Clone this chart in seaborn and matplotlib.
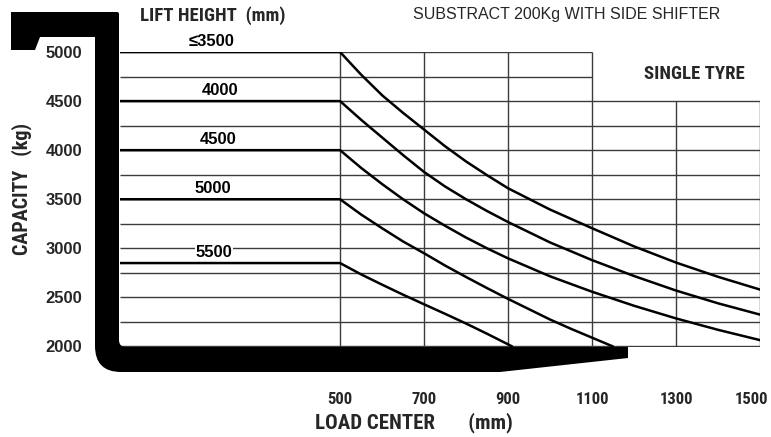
import numpy as np
import pandas as pd
import matplotlib
matplotlib.use("Agg")
import matplotlib.pyplot as plt
import seaborn as sns
from matplotlib.path import Path
from matplotlib.patches import PathPatch
from matplotlib.transforms import Affine2D, ScaledTranslation
from matplotlib import font_manager as fm

# ---------------- data ----------------
lift_heights = ["≤3500", "4000", "4500", "5000", "5500"]
flat_start = -24  # load center where the flat (rated) segment starts, at the mast
load_3500 = [flat_start, 500, 550, 600, 650, 700, 750, 800, 850, 900, 1000, 1100, 1200, 1300, 1400, 1500]
cap_3500 = [5000, 5000, 4770, 4560, 4380, 4210, 4040, 3885, 3745, 3612, 3395, 3205, 3020, 2855, 2710, 2580]
load_4000 = [flat_start, 500, 550, 600, 650, 700, 750, 800, 850, 900, 1000, 1100, 1200, 1300, 1400, 1500]
cap_4000 = [4500, 4500, 4310, 4130, 3950, 3778, 3630, 3500, 3380, 3268, 3060, 2880, 2718, 2570, 2440, 2325]
load_4500 = [flat_start, 500, 550, 600, 650, 700, 750, 800, 850, 900, 1000, 1100, 1200, 1300, 1400, 1500]
cap_4500 = [4000, 4000, 3820, 3655, 3500, 3357, 3230, 3110, 3000, 2898, 2715, 2558, 2415, 2286, 2170, 2065]
load_5000 = [flat_start, 500, 550, 600, 650, 700, 750, 800, 850, 900, 1000, 1050, 1100, 1150]
cap_5000 = [3500, 3500, 3345, 3205, 3070, 2950, 2825, 2708, 2595, 2485, 2275, 2180, 2090, 2000]
load_5500 = [flat_start, 500, 550, 600, 650, 700, 750, 800, 850, 900, 910]
cap_5500 = [2850, 2850, 2735, 2630, 2528, 2430, 2333, 2234, 2130, 2022, 2000]

x_ticks = [500, 700, 900, 1100, 1300, 1500]
y_ticks = [2000, 2500, 3000, 3500, 4000, 4500, 5000]
grid_levels = list(range(2000, 5001, 250))

loads = [load_3500, load_4000, load_4500, load_5000, load_5500]
caps = [cap_3500, cap_4000, cap_4500, cap_5000, cap_5500]
df = pd.concat([pd.DataFrame({"load": l, "cap": c, "lift": h})
                for l, c, h in zip(loads, caps, lift_heights)], ignore_index=True)

# ---------------- style ----------------
sns.set_theme(style="white")
names = {f.name for f in fm.fontManager.ttflist}
narrow_name = None
for cand in ["Roboto Condensed", "Archivo Narrow", "Fira Sans Condensed",
             "Barlow Condensed", "IBM Plex Sans Condensed", "Liberation Sans Narrow"]:
    if cand in names:
        narrow_name = cand
        break
if narrow_name:
    NARROW = dict(family=[narrow_name, "DejaVu Sans"], weight="bold")
else:
    NARROW = dict(family=["DejaVu Sans"], weight="bold", stretch="condensed")
ARIAL_B = dict(family=["Liberation Sans", "DejaVu Sans"], weight="bold")
ARIAL = dict(family=["Liberation Sans", "DejaVu Sans"])
plt.rcParams["font.family"] = ["Liberation Sans", "DejaVu Sans"]

W, H = 771, 437
fig = plt.figure(figsize=(W / 100, H / 100), dpi=100)
fig.patch.set_facecolor("white")

def fx(px):
    return px / W

def fy(py):
    return 1 - py / H

# plot area in pixels: x 120..760, y 52..346.5
ax = fig.add_axes([fx(120), fy(346.5), (760 - 120) / W, (346.5 - 52) / H])
ax.set_xlim(flat_start, 1500)
ax.set_ylim(2000, 5000)
for s in ax.spines.values():
    s.set_visible(False)
ax.set_facecolor("none")

# irregular grid
gcol = "#3c3c3c"
for lv in grid_levels:
    ax.hlines(lv, flat_start, 1100 if lv > 4500 else 1500, color=gcol, lw=1.0, zorder=1)
for xt in x_ticks:
    ax.vlines(xt, 2000, 5000 if xt <= 1100 else 4500, color=gcol, lw=1.0, zorder=1)

sns.lineplot(data=df, x="load", y="cap", hue="lift", palette=["black"] * 5,
             estimator=None, sort=False, legend=False, lw=1.8, ax=ax, zorder=3)

# curve labels
label_x = [193, 214, 210, 198, 200]
for h, c, lx in zip(lift_heights, caps, label_x):
    ax.annotate(h, xy=(lx, c[0]), xytext=(0, 7.5), textcoords="offset points",
                ha="center", va="center", fontsize=12, color="black",
                bbox=dict(facecolor="white", edgecolor="none", pad=0.5), zorder=4,
                **ARIAL_B)

ax.set_xticks(x_ticks)
ax.set_xticklabels([str(v) for v in x_ticks], fontsize=12, **NARROW)
ax.set_yticks(y_ticks)
ax.set_yticklabels([str(v) for v in y_ticks], fontsize=12, **ARIAL_B)
ax.tick_params(axis="x", length=0, pad=33)
ax.tick_params(axis="y", length=0, pad=27)
ax.set_xlabel("")
ax.set_ylabel("")
last = ax.get_xticklabels()[-1]
last.set_transform(last.get_transform() + ScaledTranslation(-8 / 100, 0, fig.dpi_scale_trans))

# fork (mast + blade) drawn in pixel space
verts = [
    (11, 12), (117, 12), (119, 12), (119, 14), (119, 340), (119, 347), (126, 347),
    (628, 347), (628, 358), (500, 372), (121, 372), (95, 372), (95, 346),
    (95, 37), (40, 37), (35, 50), (11, 50), (11, 12),
]
codes = [Path.MOVETO, Path.LINETO, Path.CURVE3, Path.CURVE3, Path.LINETO, Path.CURVE3,
         Path.CURVE3, Path.LINETO, Path.LINETO, Path.LINETO, Path.LINETO, Path.CURVE3,
         Path.CURVE3, Path.LINETO, Path.LINETO, Path.LINETO, Path.LINETO, Path.CLOSEPOLY]
pix = Affine2D().scale(1 / W, -1 / H).translate(0, 1) + fig.transFigure
fig.patches.append(PathPatch(Path(verts, codes), facecolor="black", edgecolor="none",
                             transform=pix, zorder=5))

# texts
fig.text(fx(140), fy(16), "LIFT HEIGHT  (mm)", ha="left", va="center", fontsize=13.5, **NARROW)
fig.text(fx(567), fy(15), "SUBSTRACT 200Kg WITH SIDE SHIFTER", ha="center", va="center",
         fontsize=11.5, **ARIAL)
fig.text(fx(694), fy(74), "SINGLE TYRE", ha="center", va="center", fontsize=13.5, **NARROW)
fig.text(fx(22), fy(189), "CAPACITY   (kg)", ha="center", va="center", rotation=90,
         fontsize=14.5, **NARROW)
fig.text(fx(315), fy(423), "LOAD CENTER       (mm)", ha="left", va="center", fontsize=15,
         **NARROW)

fig.savefig("out.png", dpi=100, facecolor="white")
